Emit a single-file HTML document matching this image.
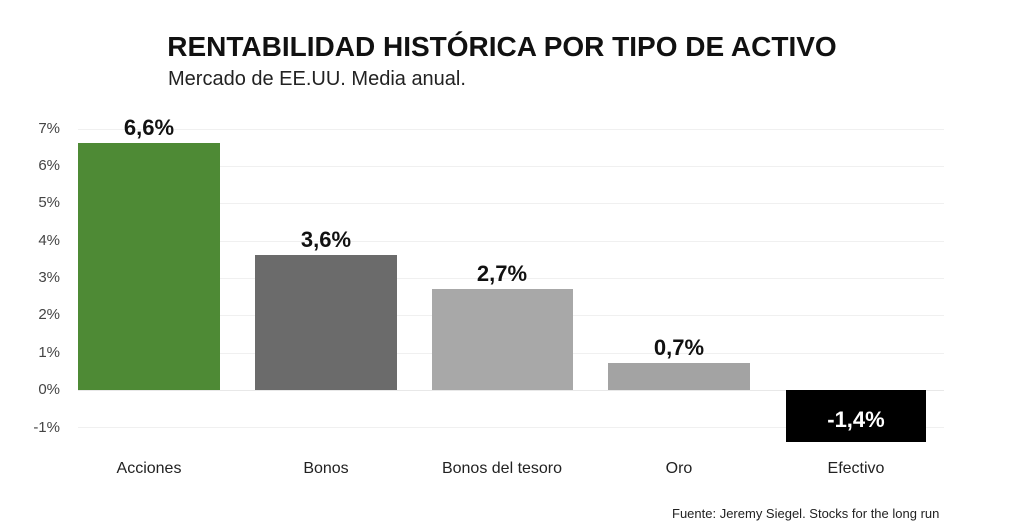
<!DOCTYPE html>
<html><head><meta charset="utf-8"><style>
body{margin:0;width:1024px;height:532px;background:#fff;position:relative;overflow:hidden;font-family:"Liberation Sans",sans-serif;color:#222}
div{position:absolute}
.g{left:78px;width:866px;height:1px;background:#f0f0f0}
.t{left:20px;width:40px;text-align:right;font-size:15px;color:#444}
.v{font-weight:bold;font-size:22px;text-align:center;width:160px;color:#111}
.c{font-size:16px;text-align:center;width:200px;top:460px;color:#222}
</style></head><body>
<div style="left:0;width:1004px;top:31px;text-align:center;font-weight:bold;font-size:28px;color:#111">RENTABILIDAD HISTÓRICA POR TIPO DE ACTIVO</div>
<div style="left:168px;top:68px;font-size:20px;color:#222">Mercado de EE.UU. Media anual.</div>
<div class="g" style="top:129px"></div><div class="g" style="top:166px"></div><div class="g" style="top:203px"></div><div class="g" style="top:241px"></div><div class="g" style="top:278px"></div><div class="g" style="top:315px"></div><div class="g" style="top:353px"></div><div class="g" style="top:390px;background:#e8e8e8"></div><div class="g" style="top:427px"></div>
<div class="t" style="top:120px">7%</div><div class="t" style="top:157px">6%</div><div class="t" style="top:194px">5%</div><div class="t" style="top:232px">4%</div><div class="t" style="top:269px">3%</div><div class="t" style="top:306px">2%</div><div class="t" style="top:344px">1%</div><div class="t" style="top:381px">0%</div><div class="t" style="top:419px">-1%</div>
<div style="left:78px;top:143px;width:142px;height:247px;background:#4e8a35"></div>
<div style="left:255px;top:255px;width:142px;height:135px;background:#6b6b6b"></div>
<div style="left:432px;top:289px;width:141px;height:101px;background:#a8a8a8"></div>
<div style="left:608px;top:363px;width:142px;height:27px;background:#a3a3a3"></div>
<div style="left:786px;top:390px;width:140px;height:52px;background:#000"></div>
<div class="v" style="left:69px;top:115px">6,6%</div>
<div class="v" style="left:246px;top:227px">3,6%</div>
<div class="v" style="left:422px;top:261px">2,7%</div>
<div class="v" style="left:599px;top:335px">0,7%</div>
<div class="v" style="left:776px;top:407px;color:#fff">-1,4%</div>
<div class="c" style="left:49px">Acciones</div>
<div class="c" style="left:226px">Bonos</div>
<div class="c" style="left:402px">Bonos del tesoro</div>
<div class="c" style="left:579px">Oro</div>
<div class="c" style="left:756px">Efectivo</div>
<div style="left:672px;top:506px;font-size:13px;color:#222">Fuente: Jeremy Siegel. Stocks for the long run</div>
</body></html>
